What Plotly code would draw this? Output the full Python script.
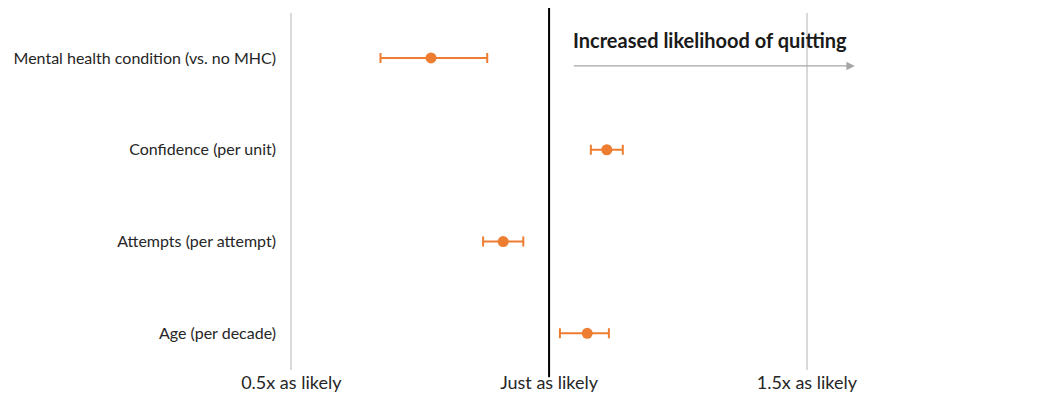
import plotly.graph_objects as go

categories = ["Age (per decade)", "Attempts (per attempt)", "Confidence (per unit)", "Mental health condition (vs. no MHC)"]
odds = [1.074, 0.911, 1.112, 0.771]
ci_low = [1.021, 0.872, 1.081, 0.673]
ci_high = [1.116, 0.950, 1.143, 0.880]
tick_vals = [0.5, 1.0, 1.5]
tick_text = ["0.5x as likely", "Just as likely", "1.5x as likely"]

ypos = list(range(len(categories)))
orange = "#ED7D31"
font_family = "Lato, Open Sans, sans-serif"

fig = go.Figure()
fig.add_trace(go.Scatter(
    x=odds, y=ypos, mode="markers",
    marker=dict(color=orange, size=11),
    error_x=dict(type="data", symmetric=False,
                 array=[h - o for h, o in zip(ci_high, odds)],
                 arrayminus=[o - l for l, o in zip(ci_low, odds)],
                 color=orange, thickness=2, width=5),
    showlegend=False,
))

fig.add_shape(type="line", xref="x", yref="paper", x0=1.0, x1=1.0, y0=-0.02, y1=1.025,
              line=dict(color="black", width=2), layer="above")

fig.add_annotation(x=1.593, y=2.913, ax=1.045, ay=2.913, xref="x", yref="y", axref="x", ayref="y",
                   text="", showarrow=True, arrowhead=2, arrowsize=1.3, arrowwidth=1.3,
                   arrowcolor="#a6a6a6")
fig.add_annotation(x=1.312, y=3.196, xref="x", yref="y", text="<b>Increased likelihood of quitting</b>",
                   showarrow=False, font=dict(family=font_family, size=20, color="#1a1a1a"))

fig.update_layout(
    width=1057, height=400,
    margin=dict(l=273, r=21, t=5, b=38),
    plot_bgcolor="white", paper_bgcolor="white",
    font=dict(family=font_family, color="#404040"),
    xaxis=dict(range=[0.48, 1.96], tickvals=tick_vals, ticktext=tick_text,
               showgrid=True, gridcolor="#d9d9d9", gridwidth=1.5, zeroline=False,
               showline=False, ticks="", tickfont=dict(size=18, color="#262626")),
    yaxis=dict(range=[-0.40, 3.49], tickvals=ypos, ticktext=categories,
               showgrid=False, zeroline=False, showline=False, ticks="",
               tickfont=dict(size=16, color="#262626"), ticklabelstandoff=4),
)

fig.write_html("out.html")
